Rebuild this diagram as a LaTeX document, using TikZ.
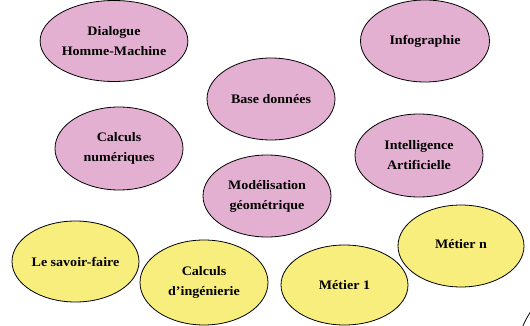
\documentclass[tikz,border=0pt]{standalone}
\usepackage{fontspec}
\setmainfont{Liberation Serif}[FakeStretch=1.08]
\usetikzlibrary{shapes.geometric}
\definecolor{pinkfill}{RGB}{228,176,210}
\definecolor{yellowfill}{RGB}{248,238,126}
\tikzset{
  bubble/.style={ellipse, draw=black, line width=0.8pt, inner sep=0pt,
    align=center, font=\bfseries\fontsize{13}{20}\selectfont},
  pinkb/.style={bubble, fill=pinkfill},
  yellowb/.style={bubble, fill=yellowfill},
}
\begin{document}
\begin{tikzpicture}[x=1pt,y=-1pt]
\useasboundingbox (0,0) rectangle (530,326);
\node[pinkb, minimum width=142pt, minimum height=81pt] (dhm) at (114,41) {Dialogue\\Homme-Machine};
\node[pinkb, minimum width=129pt, minimum height=82pt] (info) at (425,41) {Infographie};
\node[pinkb, minimum width=128pt, minimum height=82pt] (bd) at (271,99) {Base données};
\node[pinkb, minimum width=128pt, minimum height=83pt] (cn) at (119,148.5) {Calculs\\numériques};
\node[pinkb, minimum width=128pt, minimum height=83pt] (ia) at (419,155.5) {Intelligence\\Artificielle};
\node[pinkb, minimum width=128pt, minimum height=82pt] (mg) at (267,196) {Modélisation\\géométrique};
\node[yellowb, minimum width=127pt, minimum height=81pt] (sf) at (75.5,261.5) {Le savoir-faire};
\node[yellowb, minimum width=128pt, minimum height=85pt] (ci) at (204,282.5) {Calculs\\d’ingénierie};
\node[yellowb, minimum width=127pt, minimum height=80pt] (m1) at (344.5,285) {Métier 1};
\node[yellowb, minimum width=126pt, minimum height=82pt] (mn) at (461,246) {\raisebox{4pt}{Métier n}};
\draw[line width=0.8pt] (522.5,327) .. controls (525.5,320) .. (531,311);
\end{tikzpicture}
\end{document}
